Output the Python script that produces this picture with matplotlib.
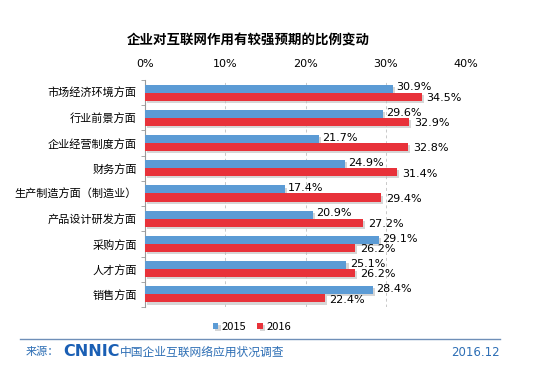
import numpy as np
import matplotlib.pyplot as plt
import matplotlib.patheffects as pe
from matplotlib.ticker import FixedLocator

plt.rcParams['font.family'] = ['Noto Sans CJK SC', 'DejaVu Sans']

# Data
# ~~~~
categories = ['市场经济环境方面', '行业前景方面', '企业经营制度方面', '财务方面',
              '生产制造方面（制造业）', '产品设计研发方面', '采购方面', '人才方面', '销售方面']
v2015 = [30.9, 29.6, 21.7, 24.9, 17.4, 20.9, 29.1, 25.1, 28.4]
v2016 = [34.5, 32.9, 32.8, 31.4, 29.4, 27.2, 26.2, 26.2, 22.4]
xticks = [0, 10, 20, 30, 40]

blue = '#5b9bd5'
red = '#e8323a'
navy = '#2e6fb5'

fig = plt.figure(figsize=(5.51, 3.82), dpi=100)
fig.patch.set_facecolor('white')

ax = fig.add_axes([145/551, 1 - 307/382, (466 - 145)/551, (307 - 80)/382])

y = np.arange(len(categories))
h = 0.32
shadow = [pe.SimplePatchShadow(offset=(1.5, -1.5), shadow_rgbFace='#bbbbbb', alpha=0.6), pe.Normal()]
b1 = ax.barh(y - h/2, v2015, height=h, color=blue, label='2015', zorder=3)
b2 = ax.barh(y + h/2, v2016, height=h, color=red, label='2016', zorder=3)
for b in list(b1) + list(b2):
    b.set_path_effects(shadow)

for yi, a, b in zip(y, v2015, v2016):
    ax.text(a + 0.4, yi - h/2 - 0.05, f'{a}%', fontsize=8, va='center', ha='left',
            family='DejaVu Sans', zorder=4)
    ax.text(b + 0.6, yi + h/2 + 0.05, f'{b}%', fontsize=8, va='center', ha='left',
            family='DejaVu Sans', zorder=4)

ax.set_xlim(0, 40)
ax.set_ylim(len(categories) - 0.5, -0.5)
ax.xaxis.tick_top()
ax.set_xticks(xticks)
ax.set_xticklabels([f'{t}%' for t in xticks], fontsize=8, family='DejaVu Sans')
ax.tick_params(axis='x', length=0, pad=8)
ax.set_yticks(y)
ax.set_yticklabels(categories, fontsize=8)
ax.tick_params(axis='y', which='major', length=0, pad=6)
ax.yaxis.set_minor_locator(FixedLocator(np.arange(-0.5, len(categories), 1)))
ax.tick_params(axis='y', which='minor', length=3, color='#999999')
ax.grid(axis='x', linestyle=(0, (3, 3)), color='#c8c8c8', linewidth=0.7, zorder=0)
for s in ['top', 'right', 'bottom']:
    ax.spines[s].set_visible(False)
ax.spines['left'].set_color('#999999')

fig.text(248/551, 1 - 40/382, '企业对互联网作用有较强预期的比例变动', fontsize=9.7,
         fontweight='bold', ha='center', va='center')

ax.legend(loc='center', bbox_to_anchor=(252/551, 1 - 327/382), bbox_transform=fig.transFigure,
          ncol=2, frameon=False, fontsize=8, handlelength=0.5, handleheight=0.5,
          handletextpad=0.3, columnspacing=1.0)

# Footer
fig.add_artist(plt.Line2D([20/551, 500/551], [1 - 339/382]*2, color='#6f8fb8', linewidth=1))
fig.text(26/551, 1 - 352/382, '来源：', fontsize=8, color=navy, va='center', ha='left')
fig.text(63/551, 1 - 352/382, 'CNNIC', fontsize=11.5, color='#1a5fb4', fontweight='bold',
         va='center', ha='left', family='DejaVu Sans')
fig.text(120/551, 1 - 352/382, '中国企业互联网络应用状况调查', fontsize=8.5, color=navy,
         va='center', ha='left')
fig.text(500/551, 1 - 352/382, '2016.12', fontsize=8.5, color=navy, va='center', ha='right',
         family='DejaVu Sans')

plt.savefig('out.png', dpi=100)
